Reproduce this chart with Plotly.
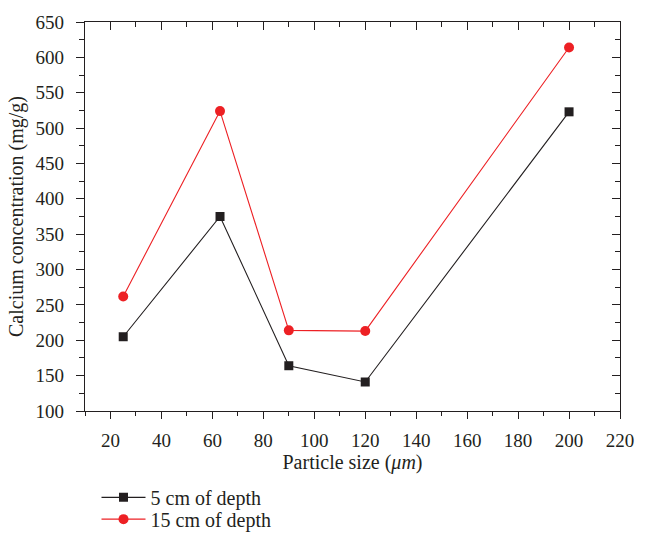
import plotly.graph_objects as go

particle_size = [25, 63, 90, 120, 200]
depth5 = [205, 375, 164, 141, 523]
depth15 = [262, 524, 214, 213, 614]
series_names = ["5 cm of depth", "15 cm of depth"]

BLACK = "#231f20"
RED = "#ed2024"
FONT = "Liberation Serif"

fig = go.Figure()
fig.add_trace(go.Scatter(x=particle_size, y=depth5, mode="lines+markers", name=series_names[0],
                         line=dict(color=BLACK, width=1.1),
                         marker=dict(symbol="square", size=9, color=BLACK),
                         legend="legend"))
fig.add_trace(go.Scatter(x=particle_size, y=depth15, mode="lines+markers", name=series_names[1],
                         line=dict(color=RED, width=1.1),
                         marker=dict(symbol="circle", size=10, color=RED),
                         legend="legend2"))
# dummy trace so the mirrored (inside-tick) axes are drawn
fig.add_trace(go.Scatter(x=[], y=[], xaxis="x2", yaxis="y2", showlegend=False, hoverinfo="skip"))

axis_common = dict(showline=True, linecolor=BLACK, linewidth=1.3, showgrid=False, zeroline=False,
                   tickcolor=BLACK, tickwidth=1.3)

legend_common = dict(xanchor="left", yanchor="middle", bgcolor="rgba(0,0,0,0)",
                     font=dict(size=20, family=FONT, color=BLACK), itemwidth=44, borderwidth=0)

fig.update_layout(
    width=646, height=550,
    margin=dict(l=85, r=18, t=16, b=127),
    paper_bgcolor="white", plot_bgcolor="white",
    font=dict(family=FONT, size=19, color=BLACK),
    xaxis=dict(range=[10, 220], tick0=0, dtick=20, ticks="outside", ticklen=7,
               minor=dict(ticks="outside", ticklen=4, dtick=10, tickcolor=BLACK, tickwidth=1.3),
               title=dict(text="Particle size (<i>μm</i>)", font=dict(size=20), standoff=4),
               tickfont=dict(size=19), ticklabelstandoff=5, **axis_common),
    yaxis=dict(range=[100, 650], dtick=50, ticks="outside", ticklen=8,
               minor=dict(ticks="outside", ticklen=5, dtick=25, tickcolor=BLACK, tickwidth=1.3),
               title=dict(text="Calcium concentration (mg/g)", font=dict(size=20), standoff=6),
               tickfont=dict(size=19), ticklabelstandoff=8, **axis_common),
    xaxis2=dict(range=[10, 220], dtick=20, tick0=0, overlaying="x", side="top", anchor="y2",
                ticks="inside", ticklen=8, showticklabels=False,
                minor=dict(ticks="inside", ticklen=5, dtick=10, tickcolor=BLACK, tickwidth=1.3),
                **axis_common),
    yaxis2=dict(range=[100, 650], dtick=50, overlaying="y", side="right", anchor="x2",
                ticks="inside", ticklen=8, showticklabels=False,
                minor=dict(ticks="inside", ticklen=5, dtick=25, tickcolor=BLACK, tickwidth=1.3),
                **axis_common),
    legend=dict(x=0.0215, y=-0.222, **legend_common),
    legend2=dict(x=0.0215, y=-0.278, **legend_common),
    showlegend=True,
)

fig.write_html("out.html")
